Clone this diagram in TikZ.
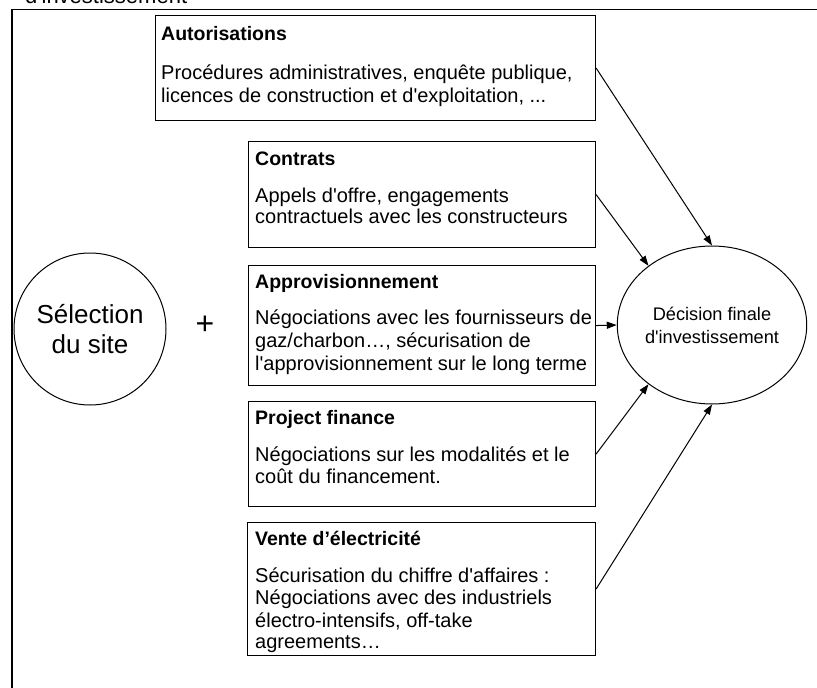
\documentclass[tikz,border=0pt]{standalone}
\usepackage{fontspec}
\setmainfont{Liberation Sans}
\usetikzlibrary{shapes.geometric,arrows.meta,calc}
\newcommand{\ap}{\textquotesingle}
\tikzset{
  box/.style={draw=black, line width=1.1pt, anchor=north west, inner sep=0pt},
  ln/.style={anchor=base west, inner sep=0pt, font=\fontsize{20}{22}\selectfont},
  ttl/.style={anchor=base west, inner sep=0pt, font=\fontsize{19.5}{22}\selectfont\bfseries},
  arr/.style={draw=black, line width=1pt, -{Triangle[length=10pt,width=7pt]}},
}
\begin{document}
\begin{tikzpicture}[x=1pt,y=-1pt]
\useasboundingbox (0,0) rectangle (817,688);
\clip (0,0) rectangle (817,688);
\fill[white] (0,0) rectangle (817,688);
% outer frame (extends past the picture)
\draw[line width=1.4pt] (12,700) -- (12,9.5) -- (830,9.5);
\node[anchor=base west, inner sep=0pt, font=\fontsize{22}{24}\selectfont] (top) at (25,3) {d\ap investissement};

% boxes
\node[box, minimum width=440pt, minimum height=105pt] (aut) at (155,15) {};
\node[box, minimum width=347pt, minimum height=106pt] (con) at (248,141) {};
\node[box, minimum width=347pt, minimum height=120pt] (app) at (248,265) {};
\node[box, minimum width=347pt, minimum height=105pt] (fin) at (248,401) {};
\node[box, minimum width=348pt, minimum height=133pt] (ven) at (247,522) {};

% box texts
\node[ttl] (autT) at (161,40) {Autorisations};
\node[ln] (autB1) at (161,79) {Procédures administratives, enquête publique,};
\node[ln] (autB2) at (161,102) {licences de construction et d\ap exploitation, ...};

\node[ttl] (conT) at (255,165) {Contrats};
\node[ln] (conB1) at (255,202) {Appels d\ap offre, engagements};
\node[ln] (conB2) at (255,223) {contractuels avec les constructeurs};

\node[ttl] (appT) at (255,288) {Approvisionnement};
\node[ln] (appB1) at (255,324) {Négociations avec les fournisseurs de};
\node[ln] (appB2) at (255,347) {gaz/charbon…, sécurisation de};
\node[ln] (appB3) at (255,370) {l\ap approvisionnement sur le long terme};

\node[ttl] (finT) at (255,424) {Project finance};
\node[ln] (finB1) at (255,461) {Négociations sur les modalités et le};
\node[ln] (finB2) at (255,483) {coût du financement.};

\node[ttl] (venT) at (255,545) {Vente d’électricité};
\node[ln] (venB1) at (255,582) {Sécurisation du chiffre d\ap affaires :};
\node[ln] (venB2) at (255,604) {Négociations avec des industriels};
\node[ln] (venB3) at (255,627) {électro-intensifs, off-take};
\node[ln] (venB4) at (255,648) {agreements…};

% circles
\node[draw=black, line width=1pt, circle, minimum size=152pt, align=center, inner sep=0pt,
      font=\fontsize{26}{30}\selectfont] (sel) at (90,329) {Sélection\\du site};
\node[font=\fontsize{32}{32}\selectfont, inner sep=0pt] (plus) at (205,325) {+};
\node[draw=black, line width=1pt, ellipse, minimum width=180pt, minimum height=158pt, inner sep=0pt, align=center,
      font=\fontsize{18.2}{23}\selectfont] (dec) at (712,325) {Décision finale\\d\ap investissement};

% arrows
\draw[arr] (aut.east) -- (dec.north);
\draw[arr] (con.east) -- (dec.137);
\draw[arr] (app.east) -- (dec.west);
\draw[arr] (fin.east) -- (dec.223);
\draw[arr] (ven.east) -- (dec.south);
\end{tikzpicture}
\end{document}
